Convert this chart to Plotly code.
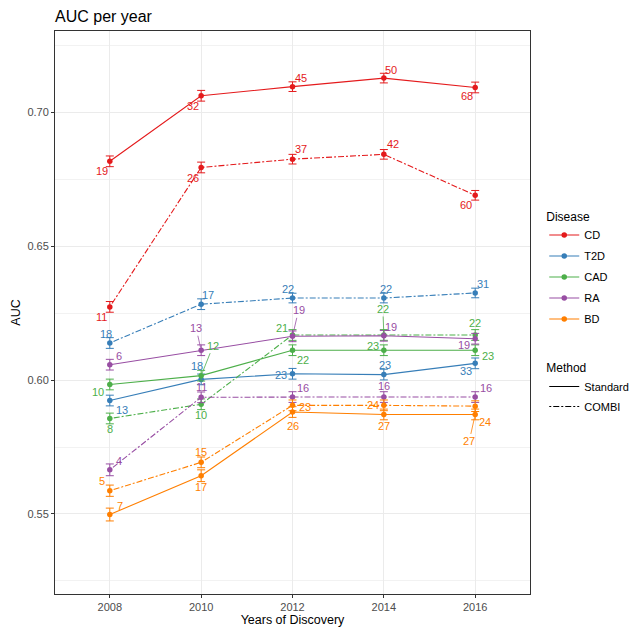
import plotly.graph_objects as go

years = [2008, 2010, 2012, 2014, 2016]
diseases = ["CD", "T2D", "CAD", "RA", "BD"]
methods = ["Standard", "COMBI"]
colors = ["#E41A1C", "#377EB8", "#4DAF4A", "#984EA3", "#FF7F00"]

cd_standard = [0.6818, 0.7063, 0.7097, 0.7129, 0.7094]
cd_combi = [0.6274, 0.6795, 0.6826, 0.6844, 0.6691]
t2d_standard = [0.5924, 0.6003, 0.6024, 0.6021, 0.6063]
t2d_combi = [0.6139, 0.6284, 0.6307, 0.6307, 0.6326]
cad_standard = [0.5984, 0.6017, 0.6112, 0.6112, 0.6112]
cad_combi = [0.5857, 0.5910, 0.6169, 0.6169, 0.6169]
ra_standard = [0.6058, 0.6112, 0.6164, 0.6166, 0.6155]
ra_combi = [0.5665, 0.5936, 0.5937, 0.5937, 0.5937]
bd_standard = [0.5498, 0.5643, 0.5881, 0.5872, 0.5872]
bd_combi = [0.5587, 0.5693, 0.5906, 0.5906, 0.5903]

cd_standard_err = [0.0020, 0.0020, 0.0018, 0.0018, 0.0020]
cd_combi_err = [0.0020, 0.0020, 0.0018, 0.0018, 0.0018]
t2d_standard_err = [0.0020, 0.0020, 0.0020, 0.0020, 0.0020]
t2d_combi_err = [0.0020, 0.0020, 0.0018, 0.0018, 0.0018]
cad_standard_err = [0.0020, 0.0020, 0.0020, 0.0020, 0.0020]
cad_combi_err = [0.0020, 0.0020, 0.0020, 0.0020, 0.0020]
ra_standard_err = [0.0020, 0.0020, 0.0020, 0.0020, 0.0020]
ra_combi_err = [0.0022, 0.0020, 0.0020, 0.0020, 0.0020]
bd_standard_err = [0.0024, 0.0022, 0.0020, 0.0020, 0.0020]
bd_combi_err = [0.0021, 0.0020, 0.0020, 0.0020, 0.0020]

cd_standard_n = [19, 32, 45, 50, 68]
cd_combi_n = [11, 26, 37, 42, 60]
t2d_standard_n = [13, 18, 23, 23, 33]
t2d_combi_n = [18, 17, 22, 22, 31]
cad_standard_n = [10, 12, 22, 23, 23]
cad_combi_n = [8, 10, 21, 22, 22]
ra_standard_n = [6, 13, 19, 19, 19]
ra_combi_n = [4, 11, 16, 16, 16]
bd_standard_n = [7, 17, 26, 27, 27]
bd_combi_n = [5, 15, 23, 24, 24]

# label offsets in pixels (dx, dy; dy positive = down), plus whether a leader line is drawn
cd_standard_off = [(-8, 10, 0), (-8, 10, 0), (8, -9, 0), (7, -8, 0), (-8, 9, 0)]
cd_combi_off = [(-8, 10, 0), (-8, 11, 0), (8, -10, 0), (9, -10, 0), (-9, 10, 0)]
t2d_standard_off = [(12, 9, 0), (-4, -13, 0), (-12, 1, 0), (1, -10, 0), (-9, 8, 0)]
t2d_combi_off = [(-4, -9, 0), (7, -9, 0), (-5, -9, 0), (2, -9, 0), (8, -9, 0)]
cad_standard_off = [(-12, 8, 0), (12, -30, 1), (10, 10, 0), (-11, -4, 0), (13, 6, 0)]
cad_combi_off = [(0, 11, 0), (0, 11, 0), (-11, -7, 0), (-1, -26, 1), (0, -12, 0)]
ra_standard_off = [(9, -9, 0), (-5, -22, 1), (6, -26, 1), (7, -9, 0), (-11, 6, 0)]
ra_combi_off = [(9, -9, 0), (0, -10, 0), (10, -9, 0), (0, -11, 0), (11, -9, 0)]
bd_standard_off = [(10, -9, 0), (0, 11, 0), (0, 14, 0), (0, 12, 0), (-6, 27, 1)]
bd_combi_off = [(-8, -10, 0), (0, -10, 0), (12, 2, 0), (-11, 0, 0), (10, 16, 0)]

series = [
    ("CD", "Standard", cd_standard, cd_standard_err, cd_standard_n, cd_standard_off),
    ("CD", "COMBI", cd_combi, cd_combi_err, cd_combi_n, cd_combi_off),
    ("T2D", "Standard", t2d_standard, t2d_standard_err, t2d_standard_n, t2d_standard_off),
    ("T2D", "COMBI", t2d_combi, t2d_combi_err, t2d_combi_n, t2d_combi_off),
    ("CAD", "Standard", cad_standard, cad_standard_err, cad_standard_n, cad_standard_off),
    ("CAD", "COMBI", cad_combi, cad_combi_err, cad_combi_n, cad_combi_off),
    ("RA", "Standard", ra_standard, ra_standard_err, ra_standard_n, ra_standard_off),
    ("RA", "COMBI", ra_combi, ra_combi_err, ra_combi_n, ra_combi_off),
    ("BD", "Standard", bd_standard, bd_standard_err, bd_standard_n, bd_standard_off),
    ("BD", "COMBI", bd_combi, bd_combi_err, bd_combi_n, bd_combi_off),
]

FONT = "Liberation Sans, Arial, sans-serif"
DASH = "2px,2px,6px,2px"

fig = go.Figure()
annotations = []
for dis, meth, vals, errs, ns, offs in series:
    col = colors[diseases.index(dis)]
    fig.add_trace(go.Scatter(
        x=years, y=vals, mode="lines+markers",
        line=dict(color=col, width=1.1, dash="solid" if meth == "Standard" else DASH),
        marker=dict(color=col, size=5.5),
        error_y=dict(type="data", array=errs, visible=True, color=col, thickness=1, width=4),
        showlegend=False,
    ))
    for x, y, n, (dx, dy, lead) in zip(years, vals, ns, offs):
        annotations.append(dict(
            x=x, y=y, xref="x", yref="y", text=str(n),
            showarrow=True, ax=dx, ay=dy, axref="pixel", ayref="pixel",
            arrowhead=0, arrowwidth=0.8, standoff=3,
            arrowcolor=col if lead else "rgba(0,0,0,0)",
            font=dict(family=FONT, size=11, color=col),
        ))

# legend entries: Disease
for i, dis in enumerate(diseases):
    fig.add_trace(go.Scatter(
        x=[None], y=[None], mode="lines+markers", name=dis,
        line=dict(color=colors[i], width=1.1), marker=dict(color=colors[i], size=5.5),
        legend="legend", legendgroup=dis,
    ))
# legend entries: Method
for meth in methods:
    fig.add_trace(go.Scatter(
        x=[None], y=[None], mode="lines", name=meth,
        line=dict(color="black", width=1, dash="solid" if meth == "Standard" else DASH),
        legend="legend2", legendgroup=meth,
    ))

W, H = 632, 637
fig.update_layout(
    width=W, height=H,
    margin=dict(l=55, r=102, t=31, b=43, autoexpand=False),
    paper_bgcolor="white", plot_bgcolor="white",
    font=dict(family=FONT, color="black"),
    title=dict(text="AUC per year", x=55 / W, xanchor="left", y=1 - 16 / H, yanchor="middle",
               font=dict(size=16, color="black")),
    annotations=annotations,
    legend=dict(
        title=dict(text="Disease", font=dict(size=12)),
        x=1.03, xanchor="left", y=0.691, yanchor="top",
        font=dict(size=11), tracegroupgap=2, traceorder="grouped",
        itemwidth=30, bgcolor="rgba(0,0,0,0)",
    ),
    legend2=dict(
        title=dict(text="Method", font=dict(size=12)),
        x=1.03, xanchor="left", y=0.422, yanchor="top",
        font=dict(size=11), tracegroupgap=1, traceorder="grouped",
        itemwidth=30, bgcolor="rgba(0,0,0,0)",
    ),
)
fig.update_xaxes(
    range=[2006.8, 2017.2], tickvals=years, ticktext=[str(y) for y in years],
    showgrid=True, gridcolor="#EBEBEB", gridwidth=1, automargin=False,
    showline=True, linecolor="#333333", mirror=True, linewidth=1,
    ticks="outside", ticklen=3, tickcolor="#333333",
    tickfont=dict(size=11, color="#4D4D4D"), zeroline=False,
    title=dict(text="Years of Discovery", font=dict(size=12.5), standoff=3),
)
fig.update_yaxes(
    range=[0.5201, 0.7305], tickvals=[0.55, 0.60, 0.65, 0.70], ticktext=["0.55", "0.60", "0.65", "0.70"],
    showgrid=True, gridcolor="#EBEBEB", gridwidth=1, automargin=False,
    minor=dict(tickvals=[0.525, 0.575, 0.625, 0.675, 0.725], showgrid=True, gridcolor="#F2F2F2", gridwidth=1),
    showline=True, linecolor="#333333", mirror=True, linewidth=1,
    ticks="outside", ticklen=3, tickcolor="#333333",
    tickfont=dict(size=11, color="#4D4D4D"), zeroline=False,
    title=dict(text="AUC", font=dict(size=12.5), standoff=4),
)

# remove the default page margin so the figure fills the window exactly
fig.write_html("out.html", config={"displayModeBar": False},
               post_script="document.body.style.margin='0';")
